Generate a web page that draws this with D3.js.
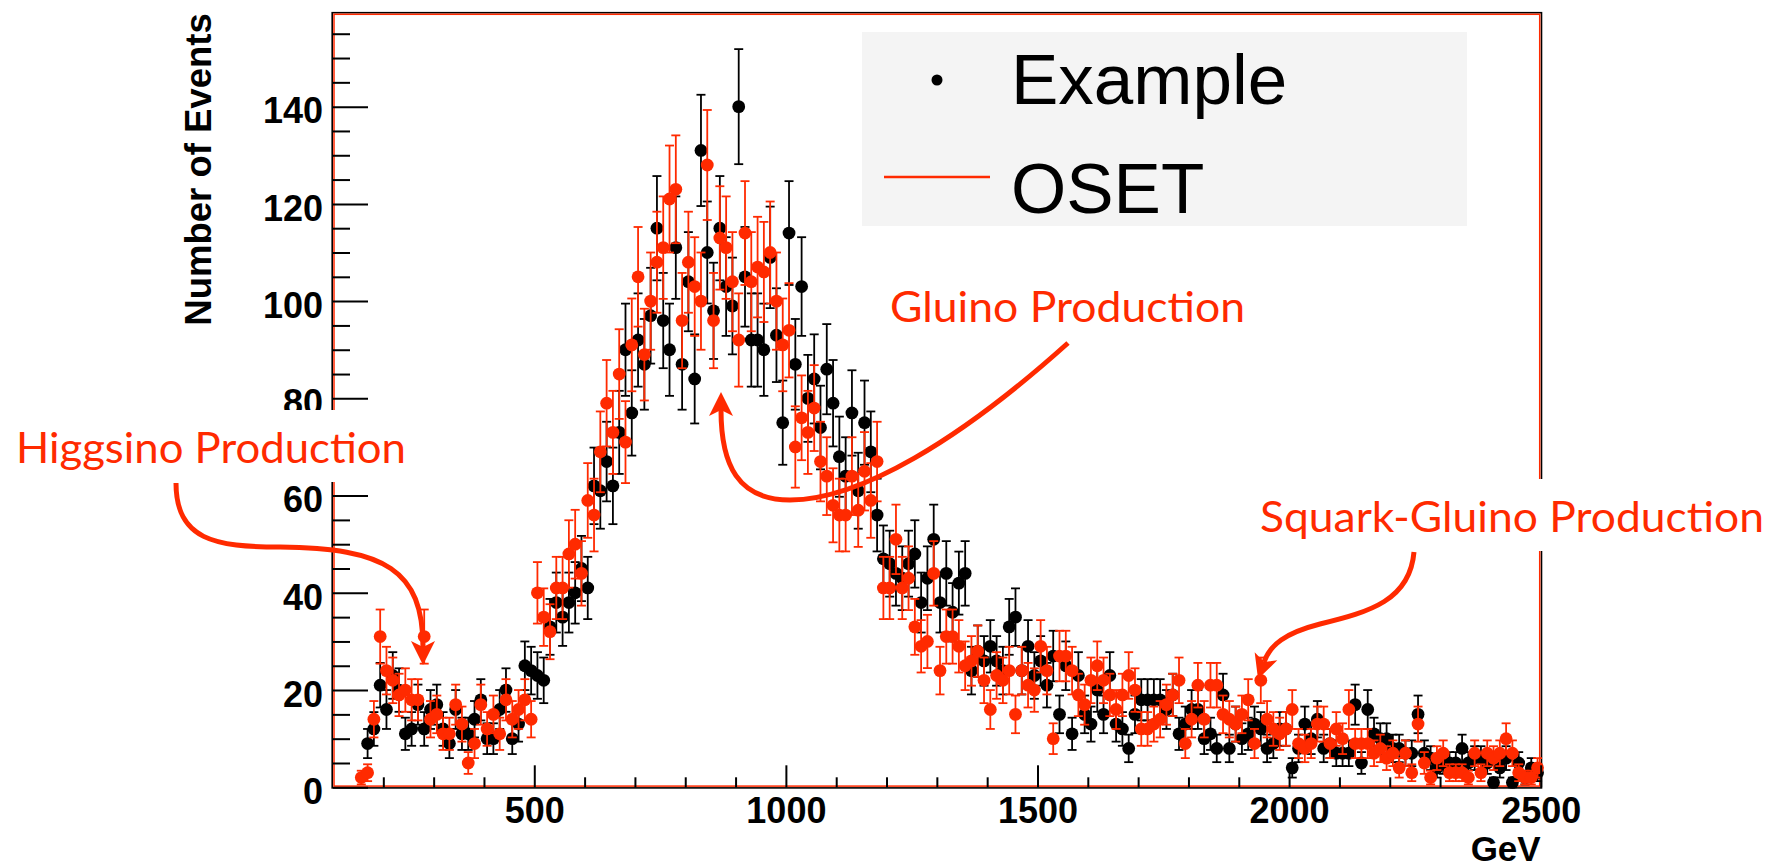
<!DOCTYPE html>
<html>
<head>
<meta charset="utf-8">
<script src="https://cdn.jsdelivr.net/npm/d3@7"></script>
<style>
  html, body { margin: 0; padding: 0; background: #fff; }
  svg { display: block; }
</style>
</head>
<body>
<svg id="chart" width="1783" height="868"></svg>
<script>
// Histogram binning: 12.5 GeV bins over 0-2500 GeV, first filled bin has index 12.
const binWidth = 12.5;
const firstBin = 12;

// OSET simulation, events per bin (bins 12 .. 199)
const osetCounts = [
  2, 3, 14, 31, 24, 22, 19, 20, 18, 18,
  31, 14, 15, 11, 11, 17, 13, 5, 9, 17,
  12, 15, 11, 18, 14, 16, 18, 14, 40, 35,
  32, 41, 41, 48, 50, 44, 59, 56, 69, 79,
  73, 85, 71, 91, 105, 89, 100, 108, 111, 121,
  123, 96, 108, 103, 100, 128, 96, 113, 111, 104,
  92, 114, 104, 107, 106, 110, 100, 91, 94, 70,
  76, 73, 78, 67, 64, 58, 56, 56, 64, 57,
  65, 59, 67, 41, 41, 51, 41, 43, 33, 29,
  30, 44, 24, 31, 31, 29, 25, 26, 28, 22,
  16, 23, 22, 24, 15, 24, 21, 20, 29, 24,
  10, 27, 27, 24, 19, 17, 22, 25, 22, 19,
  16, 19, 23, 20, 12, 12, 13, 14, 17, 19,
  22, 9, 14, 21, 14, 21, 21, 15, 14, 13,
  15, 18, 9, 22, 14, 12, 11, 12, 16, 9,
  8, 9, 13, 13, 9, 12, 10, 16, 9, 9,
  9, 7, 8, 6, 7, 4, 7, 3, 13, 5,
  2, 6, 7, 3, 3, 3, 2, 7, 3, 7,
  6, 7, 10, 7, 3, 2, 2, 4
];

// Example data set, events per bin (bins 12 .. 199; null = empty)
const exampleCounts = [
  null, 9, 12, 21, 16, 23, 20, 11, 12, 17,
  12, 16, 17, 12, 9, 16, 11, 11, 14, 18,
  10, 10, 16, 20, 10, 13, 25, 24, 23, 22,
  33, 38, 35, 38, 40, 45, 41, 62, 61, 67,
  62, 73, 90, 77, 92, 87, 97, 115, 96, 90,
  111, 87, 104, 84, 131, 110, 98, 115, 103, 99,
  140, 105, 92, 92, 90, 109, 93, 75, 114, 87,
  103, 80, 84, 74, 86, 79, 68, 64, 77, 61,
  75, 69, 56, 47, 46, 44, 43, 46, 48, 38,
  43, 51, 38, 44, 36, 42, 44, 24, 28, 26,
  29, 26, 24, 33, 35, 24, 29, 23, 26, 21,
  27, 15, 25, 11, 23, 15, 13, 20, 15, 23,
  13, 12, 8, 15, 18, 18, 18, 18, 16, 19,
  11, 13, 16, 16, 10, 11, 8, 19, 8, 13,
  10, 11, 13, 12, 8, 9, 12, 12, 4, 8,
  13, 10, 14, 8, 9, 7, 7, 7, 17, 5,
  16, 11, 10, 10, 8, 8, 7, 7, 15, 7,
  6, 4, 5, 5, 5, 8, 5, 6, 6, 5,
  1, 4, 6, 1, 5, 2, 4, 3
];

const xMajorTicks = [500, 1000, 1500, 2000, 2500];
const xMinorTicks = [200, 300, 400, 600, 700, 800, 900, 1100, 1200, 1300, 1400,
                     1600, 1700, 1800, 1900, 2100, 2200, 2300, 2400];
const yMajorTicks = [0, 20, 40, 60, 80, 100, 120, 140];
const yMinorTicks = [5, 10, 15, 25, 30, 35, 45, 50, 55, 65, 70, 75, 85, 90, 95,
                     105, 110, 115, 125, 130, 135, 145, 150, 155];

const seriesNames = ["Example", "OSET"];
const annotations = [
  { text: "Higgsino Production", x: 16, y: 463, width: 390 },
  { text: "Gluino Production", x: 890, y: 322, width: 355 },
  { text: "Squark-Gluino Production", x: 1260, y: 532, width: 504 }
];

const RED = "#ff2a00";
const frame = { left: 333, right: 1540.7, top: 13.3, bottom: 787.3 };

const svg = d3.select("#chart");

const x = d3.scaleLinear().domain([100, 2500]).range([frame.left, frame.right]);
const y = d3.scaleLinear().domain([0, 159.2]).range([frame.bottom, frame.top]);

function toPoints(counts) {
  return counts.map((v, i) => ({
    center: (firstBin + i + 0.5) * binWidth,
    value: v
  })).filter(d => d.value !== null);
}

// Frame: dark outline with the overlaid red frame just inside it
svg.append("rect")
  .attr("x", frame.left - 0.8).attr("y", frame.top - 0.6)
  .attr("width", frame.right - frame.left + 1.6).attr("height", frame.bottom - frame.top + 1.2)
  .attr("fill", "#fff").attr("stroke", "#000").attr("stroke-width", 1.6);
svg.append("rect")
  .attr("x", frame.left + 1).attr("y", frame.top + 1)
  .attr("width", frame.right - frame.left - 2).attr("height", frame.bottom - frame.top - 2.2)
  .attr("fill", "none").attr("stroke", RED).attr("stroke-width", 1.5);

// Data: error bars (Poisson) and markers
function drawSeries(points, color, cls) {
  const g = svg.append("g").attr("class", cls);
  const bars = g.selectAll("g.bar").data(points).join("g").attr("class", "bar");
  bars.append("line")
    .attr("x1", d => x(d.center)).attr("x2", d => x(d.center))
    .attr("y1", d => y(d.value + Math.sqrt(d.value)))
    .attr("y2", d => y(Math.max(0, d.value - Math.sqrt(d.value))))
    .attr("stroke", color).attr("stroke-width", 1.8);
  [1, -1].forEach(s => {
    bars.append("line")
      .attr("x1", d => x(d.center) - 4.5).attr("x2", d => x(d.center) + 4.5)
      .attr("y1", d => y(Math.max(0, d.value + s * Math.sqrt(d.value))))
      .attr("y2", d => y(Math.max(0, d.value + s * Math.sqrt(d.value))))
      .attr("stroke", color).attr("stroke-width", 1.8);
  });
  g.selectAll("circle").data(points).join("circle")
    .attr("cx", d => x(d.center)).attr("cy", d => y(d.value))
    .attr("r", 6.4).attr("fill", color);
}
drawSeries(toPoints(exampleCounts), "#000", "example");
drawSeries(toPoints(osetCounts), RED, "oset");

// Axes with inward ticks
const fontTicks = "'Liberation Sans', Arial, Helvetica, sans-serif";
const yAxis = svg.append("g").attr("transform", `translate(${frame.left},0)`)
  .call(d3.axisLeft(y).tickValues(yMajorTicks).tickFormat(d3.format("d"))
    .tickSizeInner(-35).tickSizeOuter(0).tickPadding(10));
svg.append("g").attr("transform", `translate(${frame.left},0)`)
  .call(d3.axisLeft(y).tickValues(yMinorTicks).tickSizeInner(-17).tickSizeOuter(0).tickFormat(""));
svg.append("g").attr("transform", `translate(0,${frame.bottom})`)
  .call(d3.axisBottom(x).tickValues(xMajorTicks).tickFormat(d3.format("d"))
    .tickSizeInner(-22).tickSizeOuter(0).tickPadding(10));
svg.append("g").attr("transform", `translate(0,${frame.bottom})`)
  .call(d3.axisBottom(x).tickValues(xMinorTicks).tickSizeInner(-10).tickSizeOuter(0).tickFormat(""));

svg.selectAll(".domain").remove();
svg.selectAll(".tick line").attr("stroke", "#000").attr("stroke-width", 2);
svg.selectAll(".tick text")
  .attr("font-family", fontTicks).attr("font-weight", "bold")
  .attr("font-size", 36).attr("fill", "#000");
yAxis.selectAll(".tick text").attr("dy", "0.45em");

// Axis titles
svg.append("text")
  .attr("transform", `translate(211,${frame.top}) rotate(-90)`)
  .attr("text-anchor", "end")
  .attr("font-family", fontTicks).attr("font-weight", "bold").attr("font-size", 36.5)
  .text("Number of Events");
svg.append("text")
  .attr("x", frame.right).attr("y", 861)
  .attr("text-anchor", "end")
  .attr("font-family", fontTicks).attr("font-weight", "bold").attr("font-size", 35)
  .text("GeV");

// Legend
const legend = svg.append("g");
legend.append("rect").attr("x", 862).attr("y", 32).attr("width", 605).attr("height", 194)
  .attr("fill", "#f4f4f4");
legend.append("circle").attr("cx", 937).attr("cy", 80).attr("r", 5.5).attr("fill", "#000");
legend.append("line").attr("x1", 884).attr("x2", 990).attr("y1", 177).attr("y2", 177)
  .attr("stroke", RED).attr("stroke-width", 2.5);
legend.selectAll("text.lbl").data(seriesNames).join("text").attr("class", "lbl")
  .attr("x", 1011).attr("y", (d, i) => i === 0 ? 104 : 213)
  .attr("font-family", fontTicks).attr("font-size", 71).attr("fill", "#000")
  .text(d => d);

// Annotation arrows
const defs = svg.append("defs");
defs.append("marker")
  .attr("id", "head").attr("markerUnits", "userSpaceOnUse")
  .attr("viewBox", "-1 -14 28 28").attr("refX", 6).attr("refY", 0)
  .attr("markerWidth", 28).attr("markerHeight", 28).attr("orient", "auto")
  .append("path").attr("d", "M0,-12 L24,0 L0,12 L6,0 Z").attr("fill", RED);

const arrowPaths = [
  "M176,483 C176,540 215,547 280,547 C385,548 423,570 423,647",
  "M1068,343 C960,440 860,500 790,500 C738,500 721,465 721,410",
  "M1414,552 C1410,600 1370,612 1320,624 C1285,633 1270,645 1264,662"
];

// White label boxes sit over the frame, then the labels and arrows
const labels = svg.append("g");
labels.selectAll("rect").data(annotations).join("rect")
  .attr("x", d => d.x - 8).attr("y", d => d.y - 53)
  .attr("width", d => d.width + 16).attr("height", 72)
  .attr("fill", "#fff");
labels.selectAll("text").data(annotations).join("text")
  .attr("x", d => d.x).attr("y", d => d.y)
  .attr("textLength", d => d.width).attr("lengthAdjust", "spacingAndGlyphs")
  .attr("font-family", "Lato, 'Open Sans', sans-serif").attr("font-size", 42)
  .attr("fill", RED)
  .text(d => d.text);

svg.append("g").selectAll("path").data(arrowPaths).join("path")
  .attr("d", d => d)
  .attr("fill", "none").attr("stroke", RED).attr("stroke-width", 5)
  .attr("marker-end", "url(#head)");
</script>
</body>
</html>
